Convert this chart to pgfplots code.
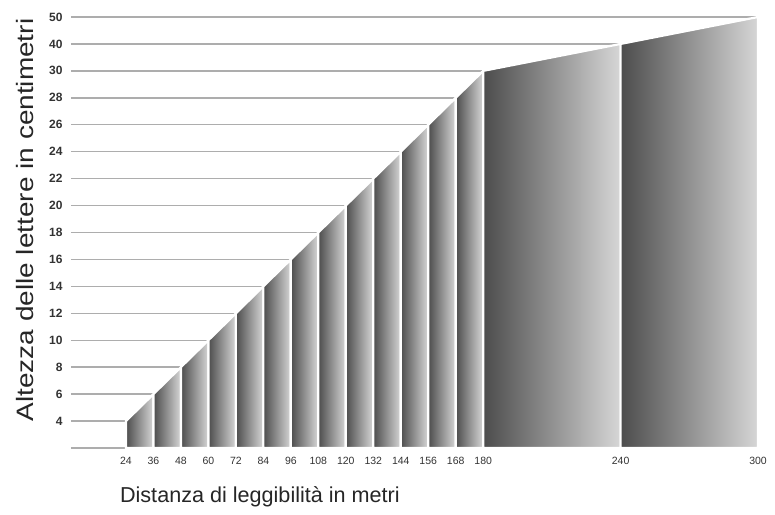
\documentclass[border=0pt]{standalone}
\usepackage{pgfplots}
\pgfplotsset{compat=1.18}
\usepackage{fontspec}
\setmainfont{Liberation Sans}
\definecolor{gdark}{gray}{0.30}
\definecolor{glight}{gray}{0.84}
\definecolor{gridc}{gray}{0.68}
\begin{document}
\begin{tikzpicture}[x=1pt,y=1pt]
\useasboundingbox (-71,-66) rectangle (704,448);
\begin{axis}[
  at={(0,0)}, anchor=south west,
  scale only axis, width=687pt, height=431pt,
  xmin=0, xmax=300, ymin=0, ymax=16,
  xtick={24,36,48,60,72,84,96,108,120,132,144,156,168,180,240,300},
  ytick={0,...,16},
  yticklabels={,4,6,8,10,12,14,16,18,20,22,24,26,28,30,40,50},
  ymajorgrids, grid style={gridc, line width=1.4pt},
  axis line style={draw=none}, major tick length=0pt,
  /pgf/number format/assume math mode=true,
  xticklabel style={font=\fontsize{10.5}{10.5}\selectfont, yshift=-6pt, text=black!80},
  yticklabel style={font=\fontsize{12}{12}\selectfont\bfseries, xshift=-5pt, text=black!80},
  xlabel={Distanza di leggibilità in metri},
  xlabel style={at={(axis description cs:0.275,-0.1276)}, anchor=base,
    font=\fontsize{21.6}{22}\selectfont, text=black!85},
  ylabel={Altezza delle lettere in centimetri},
  ylabel style={at={(axis description cs:-0.0553,0.529)}, anchor=base,
    font=\fontsize{23.7}{24}\selectfont, text=black!85, xscale=1.18},
  seg/.style={draw=white, line width=2.2pt, left color=gdark, right color=glight, mark=none},
]
\addplot[seg] coordinates {(24,1) (36,2)} \closedcycle;
\addplot[seg] coordinates {(36,2) (48,3)} \closedcycle;
\addplot[seg] coordinates {(48,3) (60,4)} \closedcycle;
\addplot[seg] coordinates {(60,4) (72,5)} \closedcycle;
\addplot[seg] coordinates {(72,5) (84,6)} \closedcycle;
\addplot[seg] coordinates {(84,6) (96,7)} \closedcycle;
\addplot[seg] coordinates {(96,7) (108,8)} \closedcycle;
\addplot[seg] coordinates {(108,8) (120,9)} \closedcycle;
\addplot[seg] coordinates {(120,9) (132,10)} \closedcycle;
\addplot[seg] coordinates {(132,10) (144,11)} \closedcycle;
\addplot[seg] coordinates {(144,11) (156,12)} \closedcycle;
\addplot[seg] coordinates {(156,12) (168,13)} \closedcycle;
\addplot[seg] coordinates {(168,13) (180,14)} \closedcycle;
\addplot[seg] coordinates {(180,14) (240,15)} \closedcycle;
\addplot[seg] coordinates {(240,15) (300,16)} \closedcycle;
\end{axis}
\end{tikzpicture}
\end{document}
